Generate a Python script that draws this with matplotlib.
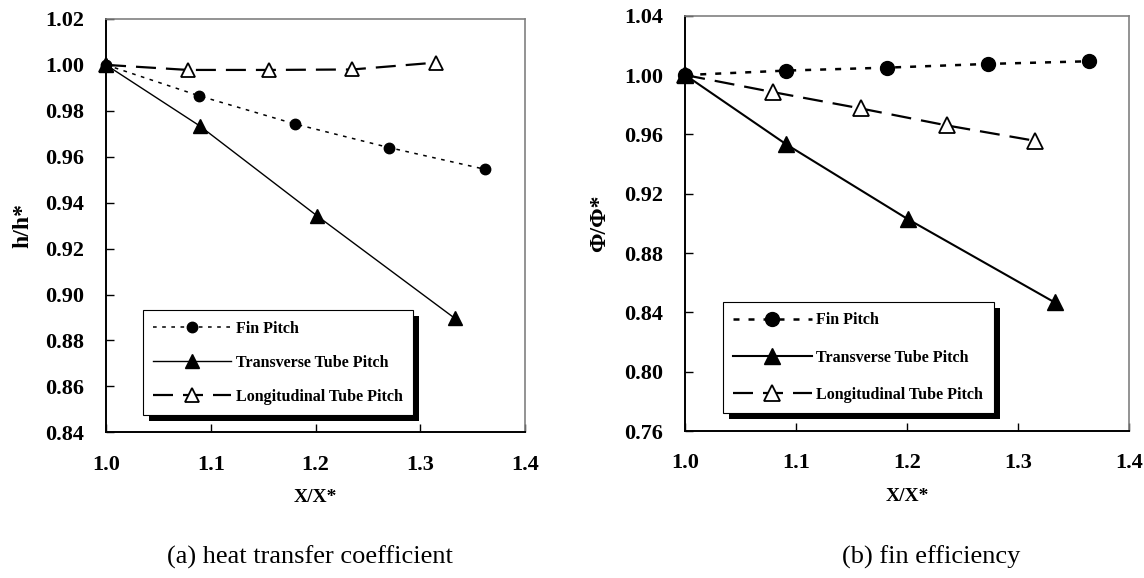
import matplotlib
matplotlib.use("Agg")
import matplotlib.pyplot as plt
import numpy as np
from matplotlib.lines import Line2D
from matplotlib.patches import Rectangle
from matplotlib.transforms import IdentityTransform
from matplotlib.ticker import FormatStrFormatter

plt.rcParams['font.family'] = ['Liberation Serif', 'DejaVu Serif']
plt.rcParams['font.weight'] = 'bold'

series_names = ['Fin Pitch', 'Transverse Tube Pitch', 'Longitudinal Tube Pitch']

# (a) heat transfer coefficient h/h*
a_fin_x = [1.0, 1.089, 1.180, 1.270, 1.362]
a_fin_y = [1.000, 0.9865, 0.9743, 0.9640, 0.9545]
a_tr_x = [1.0, 1.0895, 1.2016, 1.333]
a_tr_y = [1.000, 0.9734, 0.9342, 0.8896]
a_lon_x = [1.0, 1.078, 1.156, 1.235, 1.315]
a_lon_y = [1.000, 0.9978, 0.9978, 0.9980, 1.0010]

# (b) fin efficiency phi/phi*
b_fin_x = [1.0, 1.091, 1.182, 1.273, 1.364]
b_fin_y = [1.000, 1.0030, 1.0050, 1.0075, 1.0093]
b_tr_x = [1.0, 1.091, 1.2005, 1.333]
b_tr_y = [1.000, 0.9533, 0.9029, 0.8467]
b_lon_x = [1.0, 1.079, 1.158, 1.236, 1.315]
b_lon_y = [1.000, 0.9885, 0.9775, 0.9660, 0.9557]


def draw_panel(ax, fin, tr, lon, ylim, ystep, ylabel, lw, msz, leg_pos, leg_space,
               ylab_x, xlab_y):
    # longitudinal first so the filled markers sit on top at x = 1.0
    ax.plot(lon[0], lon[1], color='black', lw=lw[2], linestyle=(0, (9, 4.5)),
            marker='^', ms=msz[1], mfc='white', mec='black', mew=1.3, zorder=3,
            clip_on=False)
    ax.plot(tr[0], tr[1], color='black', lw=lw[1], linestyle='-',
            marker='^', ms=msz[1], mfc='black', mec='black', zorder=3, clip_on=False)
    ax.plot(fin[0], fin[1], color='black', lw=lw[0], linestyle=(0, (2.4, 3.6)),
            marker='o', ms=msz[0], mfc='black', mec='black', zorder=4, clip_on=False)

    ax.set_xlim(1.0, 1.4)
    ax.set_ylim(*ylim)
    ax.set_xticks(np.arange(1.0, 1.41, 0.1))
    ax.set_yticks(np.arange(ylim[0], ylim[1] + 1e-9, ystep))
    ax.xaxis.set_major_formatter(FormatStrFormatter('%.1f'))
    ax.yaxis.set_major_formatter(FormatStrFormatter('%.2f'))
    ax.tick_params(direction='in', length=6, width=1, labelsize=16, pad=16,
                   top=False, right=False, colors='black')
    for s in ('top', 'right'):
        ax.spines[s].set_color('#808080')
        ax.spines[s].set_linewidth(1.2)
    for s in ('left', 'bottom'):
        ax.spines[s].set_color('black')
        ax.spines[s].set_linewidth(1.4)

    ax.set_ylabel(ylabel, fontsize=17, fontweight='bold', va='center')
    ax.yaxis.set_label_coords(ylab_x, 0.5)
    ax.set_xlabel('X/X*', fontsize=14, fontweight='bold', va='center')
    ax.xaxis.set_label_coords(0.5, xlab_y)

    handles = [
        Line2D([], [], color='black', lw=lw[0], linestyle=(0, (2.4, 3.6)),
               marker='o', ms=msz[0], mfc='black', mec='black'),
        Line2D([], [], color='black', lw=lw[1], linestyle='-',
               marker='^', ms=msz[1], mfc='black', mec='black'),
        Line2D([], [], color='black', lw=lw[2], linestyle=(0, (9, 4.5)),
               marker='^', ms=msz[1], mfc='white', mec='black', mew=1.3),
    ]
    leg = ax.legend(handles, series_names, loc='lower left', bbox_to_anchor=leg_pos,
                    borderaxespad=0, frameon=True, fancybox=False, framealpha=1,
                    edgecolor='black', handlelength=4.9, handletextpad=0.3,
                    labelspacing=leg_space, borderpad=0.65,
                    prop={'family': 'Liberation Serif', 'weight': 'bold', 'size': 11.5})
    leg.get_frame().set_linewidth(0.8)
    return leg


fig = plt.figure(figsize=(11.44, 5.78), dpi=100)
ax1 = fig.add_axes([0.0927, 0.2521, 0.3663, 0.7151])
ax2 = fig.add_axes([0.5990, 0.2543, 0.3879, 0.7185])

leg1 = draw_panel(ax1, (a_fin_x, a_fin_y), (a_tr_x, a_tr_y), (a_lon_x, a_lon_y),
                  (0.84, 1.02), 0.02, 'h/h*', (1.1, 1.0, 1.6), (7.5, 10),
                  (0.0876, 0.042), 1.12, -0.199, -0.157)
leg2 = draw_panel(ax2, (b_fin_x, b_fin_y), (b_tr_x, b_tr_y), (b_lon_x, b_lon_y),
                  (0.76, 1.04), 0.04, 'Φ/Φ*', (1.8, 1.5, 1.6), (10, 11),
                  (0.085, 0.0426), 1.34, -0.192, -0.157)

fig.text(310 / 1144, 1 - 557 / 578, '(a) heat transfer coefficient', fontsize=19,
         fontweight='normal', ha='center', va='center')
fig.text(931 / 1144, 1 - 557 / 578, '(b) fin efficiency', fontsize=19,
         fontweight='normal', ha='center', va='center')

# black drop shadow behind each legend box
fig.canvas.draw()
for ax, leg in ((ax1, leg1), (ax2, leg2)):
    bb = leg.get_window_extent()
    shadow = Rectangle((bb.x0 + 6, bb.y0 - 6), bb.width, bb.height,
                       transform=IdentityTransform(), facecolor='black',
                       edgecolor='none', zorder=4.9)
    ax.add_artist(shadow)

fig.savefig('out.png', dpi=100)
